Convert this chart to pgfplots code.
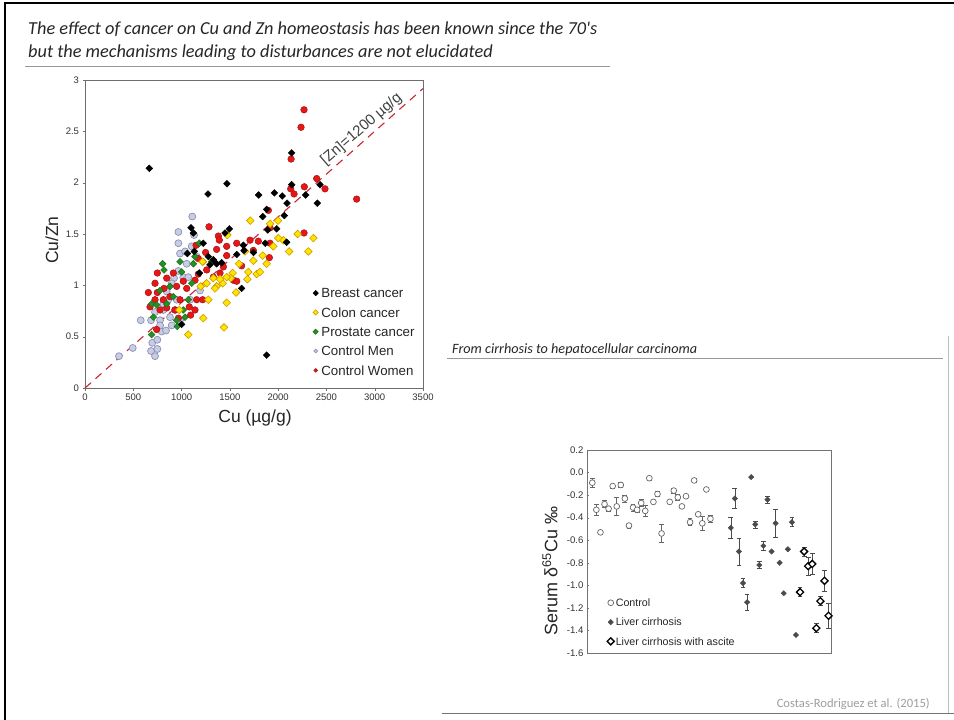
\documentclass[border=0pt]{standalone}
\usepackage{fontspec}
\setmainfont{Liberation Sans}
\newfontfamily\slidefont{Carlito}
\usepackage{pgfplots}
\pgfplotsset{compat=1.18}

\definecolor{axisgray}{RGB}{110,110,110}
\definecolor{dashred}{RGB}{200,40,50}
\definecolor{colonfill}{RGB}{255,228,0}
\definecolor{colonedge}{RGB}{205,155,0}
\definecolor{prosfill}{RGB}{35,145,35}
\definecolor{prosedge}{RGB}{25,105,25}
\definecolor{menfill}{RGB}{200,205,230}
\definecolor{menedge}{RGB}{140,145,178}
\definecolor{womfill}{RGB}{232,22,22}
\definecolor{womedge}{RGB}{165,20,20}
\definecolor{cirgray}{RGB}{75,75,75}

\pgfplotsset{
  breast/.style={only marks, mark=square*, mark size=2.4pt, mark options={rotate=45, draw=black, fill=black}},
  colon/.style={only marks, mark=square*, mark size=2.7pt, mark options={rotate=45, draw=colonedge, fill=colonfill, line width=0.6pt}},
  prostate/.style={only marks, mark=square*, mark size=2.4pt, mark options={rotate=45, draw=prosedge, fill=prosfill}},
  cmen/.style={only marks, mark=*, mark size=3.5pt, mark options={draw=menedge, fill=menfill, line width=0.7pt}},
  cwomen/.style={only marks, mark=*, mark size=3.3pt, mark options={draw=womedge, fill=womfill, line width=0.5pt}},
}

\begin{document}
\begin{tikzpicture}
\useasboundingbox (0pt,0pt) rectangle (954pt,-720pt);
\fill[white] (0pt,0pt) rectangle (954pt,-720pt);
% slide frame
\draw[black, line width=2.5pt] (5pt,-720pt) -- (5pt,-3pt) -- (954pt,-3pt);

% slide titles
\node[anchor=base west, inner sep=0pt, text=black!85, font=\slidefont\itshape\fontsize{18.3}{20}\selectfont] at (28pt,-34.5pt)
  {The effect of cancer on Cu and Zn homeostasis has been known since the 70's};
\node[anchor=base west, inner sep=0pt, text=black!85, font=\slidefont\itshape\fontsize{18.3}{20}\selectfont] at (28pt,-57pt)
  {but the mechanisms leading to disturbances are not elucidated};
\draw[black!40, line width=1pt] (25pt,-66pt) -- (610pt,-66pt);

\node[anchor=base west, inner sep=0pt, text=black!85, font=\slidefont\itshape\fontsize{14.2}{16}\selectfont] at (452pt,-353pt)
  {From cirrhosis to hepatocellular carcinoma};
\draw[black!40, line width=1pt] (447pt,-358pt) -- (943pt,-358pt);
\draw[black!25, line width=1pt] (948.5pt,-336pt) -- (948.5pt,-713pt);
\draw[black!55, line width=1.5pt] (442pt,-713.5pt) -- (954pt,-713.5pt);
\node[anchor=base east, inner sep=0pt, text=black!38, font=\slidefont\fontsize{12.6}{14}\selectfont] at (930pt,-707pt)
  {Costas-Rodriguez et al. (2015)};

% ---------- Cu/Zn versus Cu ----------
\begin{axis}[
  at={(85pt,-388pt)}, anchor=south west,
  width=338pt, height=308pt, scale only axis,
  xmin=0, xmax=3500, ymin=0, ymax=3,
  xtick={0,500,1000,1500,2000,2500,3000,3500},
  ytick={0,0.5,1,1.5,2,2.5,3},
  /pgf/number format/assume math mode=true,
  /pgf/number format/1000 sep={},
  axis line style={draw=axisgray, line width=0.8pt},
  tick style={draw=axisgray}, tick align=outside, tick pos=left,
  major tick length=2.5pt,
  ticklabel style={font=\fontsize{9.5}{11}\selectfont, text=black!80},
  xlabel={Cu (µg/g)},
  xlabel style={at={(axis description cs:0.503,-0.097)}, anchor=center, font=\fontsize{17.5}{20}\selectfont, text=black!85},
  ylabel={Cu/Zn},
  ylabel style={at={(axis description cs:-0.098,0.48)}, anchor=center, font=\fontsize{17.5}{20}\selectfont, text=black!85},
  clip=false,
  legend style={at={(axis description cs:0.674,0.340)}, anchor=north west,
    draw=none, fill=none, inner xsep=0pt, inner ysep=0pt,
    font=\fontsize{13.3}{15}\selectfont, text=black!85,
    nodes={inner sep=0pt, text height=14.45pt, text depth=4.85pt},
    /tikz/every odd column/.style={column sep=3pt}},
  legend cell align=left,
  legend image code/.code={\draw[#1, mark size=1.9pt] plot coordinates {(0pt,0pt)};},
]
\addplot[dashred, line width=1.1pt, dash pattern=on 8pt off 6pt, forget plot] coordinates {(0,0) (3500,2.9167)};
\node[rotate=41, text=black!75, font=\fontsize{15}{17}\selectfont] at (axis cs:2863,2.52) {[Zn]=1200 µg/g};

% Control Men
\addplot[cmen, forget plot] coordinates {
(352,0.31)(494,0.39)(577,0.66)(684,0.66)(684,0.36)(697,0.44)(725,0.31)(749,0.38)
(749,0.47)(725,0.74)(777,0.66)(794,0.55)(839,0.56)(811,0.76)(863,0.86)(880,0.69)
(898,0.61)(932,0.76)(949,0.86)(922,1.07)(898,1.02)(846,0.94)(967,1.52)(967,1.41)
(984,1.31)(1036,1.33)(1053,1.21)(1018,1.08)(1111,1.67)(1129,1.49)(1105,1.38)(1087,0.86)
(1070,1.08)(1156,1.28)(1191,0.95)(811,0.82)(777,0.61)(984,0.66)(967,1.14)
};
% Control Women
\addplot[cwomen, forget plot] coordinates {
(2268,2.71)(2237,2.54)(2134,2.23)(2813,1.84)(2399,2.04)(2485,1.94)(2271,1.96)(2130,1.94)
(2165,1.89)(1899,1.73)(2268,1.51)(1284,1.57)(1381,1.48)(1391,1.44)(1467,1.29)(1467,1.38)
(1571,1.41)(1709,1.44)(1743,1.34)(1795,1.43)(1916,1.41)(1909,1.27)(1363,1.35)(1249,1.32)
(1150,1.39)(1174,1.11)(1156,0.86)(1080,0.79)(1139,0.76)(1094,0.71)(1218,0.86)(1398,1.12)
(1433,1.18)(1536,1.05)(1571,1.04)(1622,1.19)(749,1.12)(725,1.02)(656,0.93)(749,0.93)
(673,0.79)(725,0.86)(742,0.57)(811,0.86)(846,1.07)(915,1.12)(949,0.99)(880,0.89)
(846,0.78)(932,0.76)(967,0.68)(1018,1.04)(1053,0.97)(1139,1.05)(1174,1.26)(1260,1.15)
(1329,1.08)(1916,1.56)(777,0.76)(818,0.97)(984,0.86)
};
% Prostate cancer
\addplot[prostate, forget plot] coordinates {
(804,1.21)(818,1.15)(690,0.82)(708,0.69)(690,0.52)(742,0.81)(846,0.82)(880,0.99)
(949,0.66)(956,0.60)(984,1.23)(1001,1.13)(1036,0.69)(1070,0.86)(1105,1.02)(1122,1.21)
(1184,1.41)(1225,1.23)(1312,1.23)(1139,1.28)(915,0.89)(1018,0.76)(777,0.95)
};
% Colon cancer
\addplot[colon, forget plot] coordinates {
(1712,1.63)(1999,1.63)(2202,1.50)(2365,1.46)(2313,1.33)(2113,1.33)(2054,1.44)(1916,1.60)
(1950,1.38)(1881,1.21)(1840,1.29)(1778,1.11)(1812,1.13)(1691,1.13)(1681,1.06)(1657,1.33)
(1595,1.21)(1564,0.93)(1529,1.12)(1509,1.07)(1467,0.83)(1439,0.59)(1474,1.49)(1426,1.02)
(1398,1.06)(1363,0.99)(1346,0.97)(1329,1.07)(1277,0.86)(1225,0.68)(1218,1.23)(1198,0.99)
(1070,0.52)(977,0.76)(1260,1.02)(1467,1.08)(2002,1.46)(1743,1.24)
};
% Breast cancer
\addplot[breast, forget plot] coordinates {
(666,2.14)(1274,1.89)(1470,1.99)(1798,1.88)(1840,1.67)(1961,1.90)(2043,1.87)(2092,1.80)
(2064,1.68)(2140,2.29)(2140,1.98)(2285,1.88)(2434,1.98)(2406,1.80)(1881,0.32)(1098,1.56)
(1122,1.51)(1132,1.33)(1225,1.41)(1277,1.28)(1294,1.20)(1363,1.21)(1415,1.22)(1450,1.51)
(1495,1.55)(1571,1.30)(1640,1.39)(1647,1.34)(1744,1.32)(1622,0.97)(1881,1.74)(1892,1.54)
(1985,1.55)(1867,1.41)(2088,1.42)(1001,0.62)(1060,1.31)(1184,1.12)(1329,1.25)
};

\addlegendimage{breast}
\addlegendentry{Breast cancer}
\addlegendimage{colon}
\addlegendentry{Colon cancer}
\addlegendimage{prostate}
\addlegendentry{Prostate cancer}
\addlegendimage{cmen}
\addlegendentry{Control Men}
\addlegendimage{cwomen}
\addlegendentry{Control Women}
\end{axis}

% ---------- serum delta65Cu ----------
\begin{axis}[
  at={(587pt,-653pt)}, anchor=south west,
  width=244pt, height=203pt, scale only axis,
  xmin=-0.3, xmax=59.6, ymin=-1.6, ymax=0.2,
  xtick=\empty,
  ytick={-1.6,-1.4,-1.2,-1,-0.8,-0.6,-0.4,-0.2,0,0.2},
  yticklabels={-1.6,-1.4,-1.2,-1.0,-0.8,-0.6,-0.4,-0.2,0.0,0.2},
  axis line style={draw=black!55, line width=0.8pt},
  tick style={draw=black!55}, tick align=inside, ytick pos=left,
  major tick length=2pt,
  ticklabel style={font=\fontsize{9.6}{11}\selectfont, text=black!80},
  clip=false,
  legend style={at={(axis description cs:0.082,0.296)}, anchor=north west,
    draw=none, fill=none, inner xsep=0pt, inner ysep=0pt,
    font=\fontsize{10.7}{12}\selectfont, text=black!85,
    nodes={inner sep=0pt, text height=13.5pt, text depth=5.8pt},
    /tikz/every odd column/.style={column sep=1.5pt}},
  legend cell align=left,
  legend image code/.code={\draw[#1] plot coordinates {(0pt,0pt)};},
]
\addplot[only marks, mark=*, mark size=2.9pt, mark options={draw=black!60, fill=white, line width=0.7pt},
  error bars/.cd, y dir=both, y explicit,
  error bar style={draw=black!60, line width=0.6pt},
  error mark options={rotate=90, mark size=2.4pt, draw=black!60, line width=0.6pt}]
  table[x=k, y=v, y error=e] {
k v e
1 -0.09 0.04
2 -0.33 0.05
3 -0.53 0.0
4 -0.28 0.03
5 -0.32 0.02
6 -0.12 0.02
7 -0.30 0.08
8 -0.11 0.02
9 -0.23 0.03
10 -0.47 0.02
11 -0.31 0.03
12 -0.33 0.02
13 -0.27 0.03
14 -0.34 0.05
15 -0.05 0.02
16 -0.26 0.0
17 -0.19 0.02
18 -0.54 0.08
20 -0.26 0.0
21 -0.16 0.02
22 -0.22 0.03
23 -0.30 0.0
24 -0.21 0.0
25 -0.44 0.03
26 -0.07 0.02
27 -0.37 0.02
28 -0.45 0.06
29 -0.15 0.0
30 -0.41 0.03
};
\addlegendentry{Control}

\addplot[only marks, mark=square*, mark size=1.9pt, mark options={rotate=45, draw=cirgray, fill=cirgray},
  error bars/.cd, y dir=both, y explicit,
  error bar style={draw=cirgray, line width=0.6pt},
  error mark options={rotate=90, mark size=2.4pt, draw=cirgray, line width=0.6pt}]
  table[x=k, y=v, y error=e] {
k v e
35 -0.49 0.09
36 -0.23 0.09
37 -0.70 0.12
38 -0.98 0.04
39 -1.15 0.07
40 -0.04 0.0
41 -0.46 0.03
42 -0.82 0.03
43 -0.65 0.04
44 -0.24 0.03
45 -0.70 0.0
46 -0.45 0.12
47 -0.80 0.0
48 -1.07 0.0
49 -0.68 0.0
50 -0.44 0.04
51 -1.44 0.0
};
\addlegendentry{Liver cirrhosis}

\addplot[only marks, mark=square*, mark size=2.5pt, mark options={rotate=45, draw=black, fill=white, line width=1.3pt},
  error bars/.cd, y dir=both, y explicit,
  error bar style={draw=black!70, line width=0.6pt},
  error mark options={rotate=90, mark size=2.4pt, draw=black!70, line width=0.6pt}]
  table[x=k, y=v, y error=e] {
k v e
52 -1.06 0.04
53 -0.70 0.04
54 -0.83 0.08
55 -0.81 0.09
56 -1.38 0.04
57 -1.14 0.04
58 -0.96 0.09
59 -1.27 0.11
};
\addlegendentry{Liver cirrhosis with ascite}
\end{axis}
\node[rotate=90, text=black!85, font=\fontsize{18}{20}\selectfont] at (550pt,-571pt) {Serum δ\textsuperscript{65}Cu ‰};
\end{tikzpicture}
\end{document}
